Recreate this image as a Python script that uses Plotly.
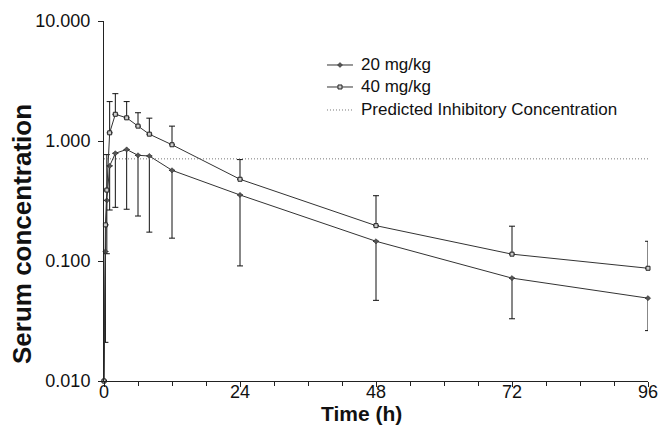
import plotly.graph_objects as go

times = [0, 0.25, 0.5, 1, 2, 4, 6, 8, 12, 24, 48, 72, 96]
conc_20 = [0.01, 0.12, 0.32, 0.62, 0.79, 0.85, 0.76, 0.75, 0.57, 0.355, 0.146, 0.072, 0.049]
low_20 = [None, 0.021, 0.115, 0.266, 0.28, 0.27, 0.237, 0.174, 0.155, 0.091, 0.047, 0.033, 0.0263]
conc_40 = [0.01, 0.2, 0.39, 1.17, 1.67, 1.56, 1.33, 1.14, 0.93, 0.48, 0.197, 0.114, 0.087]
high_40 = [None, None, 0.77, 2.13, 2.48, 2.13, 1.72, 1.55, 1.33, 0.70, 0.35, 0.195, 0.146]
pic = 0.71
x_ticks = [0, 24, 48, 72, 96]
y_ticks = [0.01, 0.1, 1, 10]
y_labels = ["0.010", "0.100", "1.000", "10.000"]
legend_names = ["20 mg/kg", "40 mg/kg", "Predicted Inhibitory Concentration"]

minus_20 = [0 if l is None else c - l for c, l in zip(conc_20, low_20)]
plus_40 = [0 if h is None else h - c for c, h in zip(conc_40, high_40)]

LINE = "#333333"
fig = go.Figure()
fig.add_trace(go.Scatter(
    x=times, y=conc_20, mode="lines+markers", name=legend_names[0],
    line=dict(color=LINE, width=1),
    marker=dict(symbol="diamond", size=4, color="#555555", line=dict(color="#222222", width=0.5)),
    error_y=dict(type="data", symmetric=False, array=[0] * len(times), arrayminus=minus_20,
                 color="#111111", thickness=1, width=3),
    cliponaxis=False,
))
fig.add_trace(go.Scatter(
    x=times, y=conc_40, mode="lines+markers", name=legend_names[1],
    line=dict(color=LINE, width=1),
    marker=dict(symbol="square", size=4, color="#cccccc", line=dict(color="#222222", width=1)),
    error_y=dict(type="data", symmetric=False, array=plus_40, arrayminus=[0] * len(times),
                 color="#111111", thickness=1, width=3),
    cliponaxis=False,
))
fig.add_trace(go.Scatter(
    x=[0, 96], y=[pic, pic], mode="lines", name=legend_names[2],
    line=dict(color="#777777", width=1, dash="1px,2px"),
))

# manual legend
font = "Liberation Sans, Arial, sans-serif"
lx = 0.4338
rows = [0.8778, 0.8167, 0.7528]
shapes = []
annos = []
dashes = ["solid", "solid", "1px,2px"]
colors = [LINE, LINE, "#777777"]
for i, name in enumerate(legend_names):
    shapes.append(dict(type="line", xref="paper", yref="paper", xsizemode="pixel", ysizemode="pixel",
                       xanchor=lx, yanchor=rows[i], x0=-13, x1=13, y0=0, y1=0,
                       line=dict(color=colors[i], width=1, dash=dashes[i])))
    annos.append(dict(text=name, xref="paper", yref="paper", x=0.468, y=rows[i],
                      xanchor="left", yanchor="middle", showarrow=False,
                      font=dict(size=17, family=font, color="#111111")))
shapes.append(dict(type="path", xref="paper", yref="paper", xsizemode="pixel", ysizemode="pixel",
                   xanchor=lx, yanchor=rows[0], path="M -2.5 0 L 0 2.5 L 2.5 0 L 0 -2.5 Z",
                   fillcolor="#555555", line=dict(color="#222222", width=0.5)))
shapes.append(dict(type="rect", xref="paper", yref="paper", xsizemode="pixel", ysizemode="pixel",
                   xanchor=lx, yanchor=rows[1], x0=-2, x1=2, y0=-2, y1=2,
                   fillcolor="#cccccc", line=dict(color="#222222", width=1)))

# axis titles (page coords: y-title centre (22, 234), x-title centre (361, 414))
annos.append(dict(text="<b>Serum concentration</b>", xref="paper", yref="paper",
                  x=(22 - 104) / 544, y=(381 - 234) / 360,
                  xanchor="center", yanchor="middle", textangle=-90, showarrow=False,
                  font=dict(size=26, family=font, color="#111111")))
annos.append(dict(text="<b>Time (h)</b>", xref="paper", yref="paper",
                  x=(361 - 104) / 544, y=(381 - 414) / 360,
                  xanchor="center", yanchor="middle", showarrow=False,
                  font=dict(size=21, family=font, color="#111111")))

fig.update_layout(
    width=659, height=440,
    margin=dict(l=104, r=11, t=21, b=59),
    plot_bgcolor="white", paper_bgcolor="white",
    font=dict(family=font, size=18, color="#111111"),
    showlegend=False,
    shapes=shapes, annotations=annos,
    xaxis=dict(range=[0, 96], tickvals=x_ticks, ticks="outside", ticklen=5, tickcolor="#222222",
               showline=True, linecolor="#222222", linewidth=1, showgrid=False, zeroline=False,
               automargin=False, ticklabelstandoff=-11, ticklabeloverflow="allow",
               minor=dict(dtick=6, ticks="outside", ticklen=4, tickcolor="#222222")),
    yaxis=dict(type="log", range=[-2, 1], tickvals=y_ticks, ticktext=y_labels,
               ticks="outside", ticklen=5, tickcolor="#222222", automargin=False, ticklabelstandoff=4,
               showline=True, linecolor="#222222", linewidth=1, showgrid=False, zeroline=False),
)
fig.write_html("out.html", config={"displayModeBar": False},
               post_script="document.body.style.margin='0px';document.body.style.overflow='hidden';")
